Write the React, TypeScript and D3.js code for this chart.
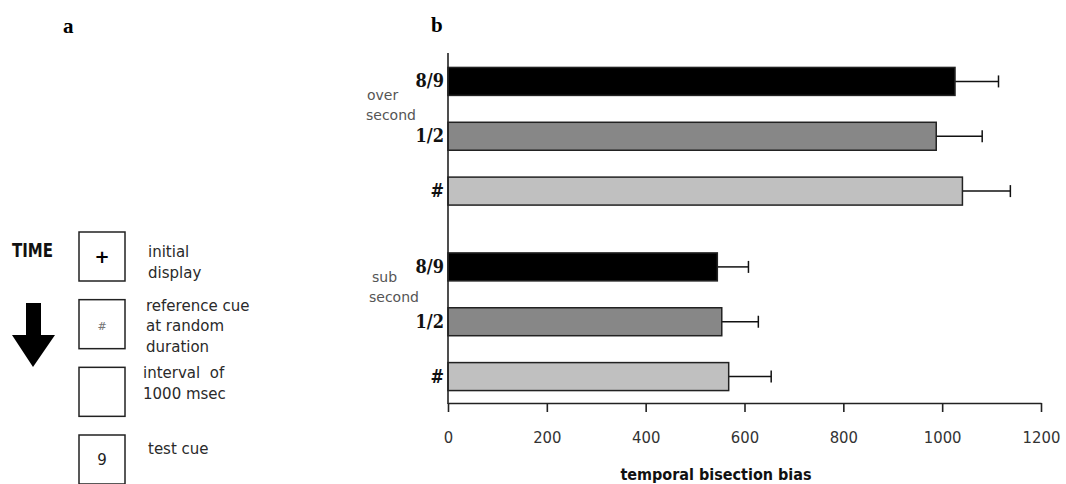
import React, { useEffect, useRef } from "react";
import * as d3 from "d3";

// panel b data
const groups = ["over", "sub"];
const groupLabels = [["over", "second"], ["sub", "second"]];
const conditions = ["8/9", "1/2", "#"];
const overMeans = [1026, 988, 1041];
const overErrors = [88, 93, 97];
const subMeans = [545, 554, 568];
const subErrors = [63, 74, 86];
const xTicks = [0, 200, 400, 600, 800, 1000, 1200];
const barColors = ["#000000", "#878787", "#c0c0c0"];

// panel a text
const steps = [
    { symbol: "+", lines: ["initial", "display"] },
    { symbol: "#", lines: ["reference cue", "at random", "duration"] },
    { symbol: "", lines: ["interval  of", "1000 msec"] },
    { symbol: "9", lines: ["test cue"] },
];

const W = 1066;
const H = 484;

export default function App() {
    const axisRef = useRef<SVGGElement>(null);

    const x = d3.scaleLinear().domain([0, 1200]).range([448, 1041]);
    const outer = d3.scaleBand().domain(groups).range([54, 404]).paddingInner(0.113).paddingOuter(0);
    const inner = d3.scaleBand().domain(conditions).range([0, outer.bandwidth()]).paddingInner(0.49).paddingOuter(0.245);

    const rows = groups.flatMap((g, gi) =>
        conditions.map((c, ci) => ({
            group: g,
            cond: c,
            ci: ci,
            mean: gi == 0 ? overMeans[ci] : subMeans[ci],
            err: gi == 0 ? overErrors[ci] : subErrors[ci],
            y: (outer(g) as number) + (inner(c) as number),
        }))
    );

    useEffect(() => {
        const g = d3.select(axisRef.current);
        g.selectAll("*").remove();
        g.call(d3.axisBottom(x).tickValues(xTicks).tickFormat(d3.format("d")).tickSize(9).tickSizeOuter(0).tickPadding(19));
        g.select(".domain").attr("stroke", "#222").attr("stroke-width", 1.6);
        g.selectAll(".tick line").attr("stroke", "#222").attr("stroke-width", 1.6);
        g.selectAll(".tick text")
            .attr("font-family", "DejaVu Sans Condensed")
            .attr("font-size", 16.5)
            .attr("fill", "#333");
    }, []);

    const bw = inner.bandwidth();

    // step boxes for panel a
    const boxY = d3.scalePoint().domain(steps.map((s, i) => String(i))).range([232, 435]);

    return (
        <svg width={W} height={H} style={{ position: "absolute", left: 0, top: 0, background: "#fff" }}>
            {/* panel letters */}
            <text x={63} y={33} fontFamily="Liberation Serif" fontWeight="bold" fontSize={21}>a</text>
            <text x={431} y={32} fontFamily="Liberation Serif" fontWeight="bold" fontSize={21}>b</text>

            {/* panel a: TIME + arrow */}
            <text x={12} y={257} fontFamily="DejaVu Sans Condensed" fontWeight="bold" fontSize={20} textLength={41} lengthAdjust="spacingAndGlyphs" fill="#111">TIME</text>
            <path d="M26,303 L41,303 L41,335 L55,335 L33,367 L12,335 L26,335 Z" fill="#000" />

            {steps.map((s, i) => {
                const by = boxY(String(i)) as number;
                return (
                    <g key={i}>
                        <rect x={79} y={by} width={46} height={49} fill="#fff" stroke="#222" strokeWidth={1.5} />
                        {s.symbol == "+" && (
                            <text x={102} y={by + 31} textAnchor="middle" fontFamily="DejaVu Sans" fontWeight="bold" fontSize={18}>+</text>
                        )}
                        {s.symbol == "#" && (
                            <text x={102} y={by + 30} textAnchor="middle" fontFamily="DejaVu Serif" fontStyle="italic" fontSize={11} fill="#777">#</text>
                        )}
                        {s.symbol == "9" && (
                            <text x={102} y={by + 30} textAnchor="middle" fontFamily="DejaVu Sans" fontSize={15} fill="#222">9</text>
                        )}
                        {s.lines.map((l, li) => (
                            <text key={li} x={i == 2 ? 143 : i == 1 ? 146 : 148} y={by + (i == 0 ? 25 : i == 3 ? 19 : 11) + li * 20.5}
                                fontFamily="DejaVu Sans" fontSize={15} fill="#2a2a2a" style={{ whiteSpace: "pre" }}>{l}</text>
                        ))}
                    </g>
                );
            })}

            {/* panel b: group labels */}
            {groups.map((g, gi) => {
                const base = (outer(g) as number) + (gi == 0 ? 46 : 43);
                return groupLabels[gi].map((l, li) => (
                    <text key={g + li} x={li == 0 ? (gi == 0 ? 367 : 372) : (gi == 0 ? 366 : 369)} y={base + li * 20}
                        fontFamily="DejaVu Sans" fontSize={14} fill="#555">{l}</text>
                ));
            })}

            {/* bars */}
            {rows.map((r, i) => (
                <g key={i}>
                    <line x1={x(r.mean)} x2={x(r.mean + r.err)} y1={r.y + bw / 2} y2={r.y + bw / 2} stroke="#111" strokeWidth={1.5} />
                    <line x1={x(r.mean + r.err)} x2={x(r.mean + r.err)} y1={r.y + bw / 2 - 6} y2={r.y + bw / 2 + 6} stroke="#111" strokeWidth={1.5} />
                    <rect x={x(0)} y={r.y} width={x(r.mean) - x(0)} height={bw} fill={barColors[r.ci]} stroke="#222" strokeWidth={1.5} />
                    <text x={444} y={r.y + bw / 2 + 6} textAnchor="end" fontFamily="DejaVu Serif Condensed" fontWeight="bold" fontSize={18} fill="#111">{r.cond}</text>
                </g>
            ))}

            {/* axes */}
            <line x1={x(0)} x2={x(0)} y1={53} y2={404} stroke="#222" strokeWidth={1.6} />
            <g ref={axisRef} transform="translate(0,403)" />
            <text x={716} y={480} textAnchor="middle" fontFamily="DejaVu Sans Condensed" fontWeight="bold" fontSize={16} fill="#111">temporal bisection bias</text>
        </svg>
    );
}
